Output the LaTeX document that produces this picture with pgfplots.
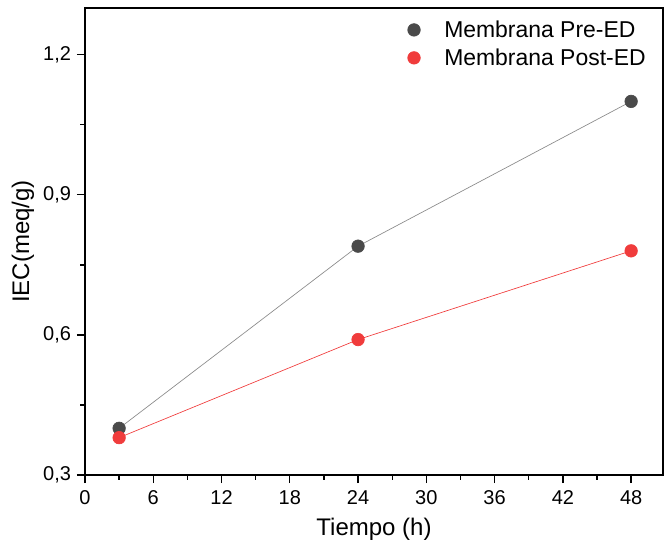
\documentclass[border=0pt]{standalone}
\usepackage{pgfplots}
\pgfplotsset{compat=1.18}
\usepackage{fontspec}
\setmainfont{Liberation Sans}
\definecolor{pre}{HTML}{4A4A4A}
\definecolor{preline}{HTML}{8A8A8A}
\definecolor{post}{HTML}{F03C3C}
\begin{document}
\begin{tikzpicture}[x=0.75pt,y=0.75pt]
\begin{axis}[
  at={(0,0)}, anchor=south west,
  scale only axis,
  width=433.5pt, height=350.25pt,
  xmin=0, xmax=50.8, ymin=0.3, ymax=1.3,
  xtick={0,6,...,48}, minor x tick num=1,
  ytick={0.3,0.6,0.9,1.2}, minor y tick num=1,
  tick align=outside,
  xtick pos=bottom, ytick pos=left,
  major tick length=6pt, minor tick length=3.5pt,
  every tick/.style={black, line width=1pt},
  axis line style={line width=1.1pt},
  /pgf/number format/assume math mode=true,
  /pgf/number format/use comma,
  /pgf/number format/fixed, /pgf/number format/fixed zerofill,
  /pgf/number format/precision=1,
  xticklabel style={/pgf/number format/precision=0, /pgf/number format/fixed zerofill=false, yshift=-2pt},
  yticklabel style={xshift=-1pt},
  tick label style={font=\fontsize{15}{18}\selectfont},
  label style={font=\fontsize{18}{21}\selectfont},
  xlabel={Tiempo (h)}, ylabel={IEC(meq/g)},
  xlabel style={yshift=-3pt},
  legend style={draw=none, fill=none, at={(0.982,0.985)}, anchor=north east,
    font=\fontsize{17.2}{21}\selectfont, row sep=3pt, cells={anchor=west}},
  legend cell align=left,
  legend image code/.code={\draw[#1] plot coordinates {(0.05cm,0cm)};},
]
\addplot[color=preline, line width=0.5pt, mark=*, mark size=4.7pt,
  mark options={draw=pre, fill=pre, solid}] coordinates {(3,0.40) (24,0.79) (48,1.10)};
\addlegendentry{\hspace{16pt}Membrana Pre-ED}
\addplot[color=post, line width=0.5pt, mark=*, mark size=4.7pt,
  mark options={draw=post, fill=post, solid}] coordinates {(3,0.38) (24,0.59) (48,0.78)};
\addlegendentry{\hspace{16pt}Membrana Post-ED}
\end{axis}
\pgfresetboundingbox
\path (-85,-75) rectangle (579,475);
\end{tikzpicture}
\end{document}
